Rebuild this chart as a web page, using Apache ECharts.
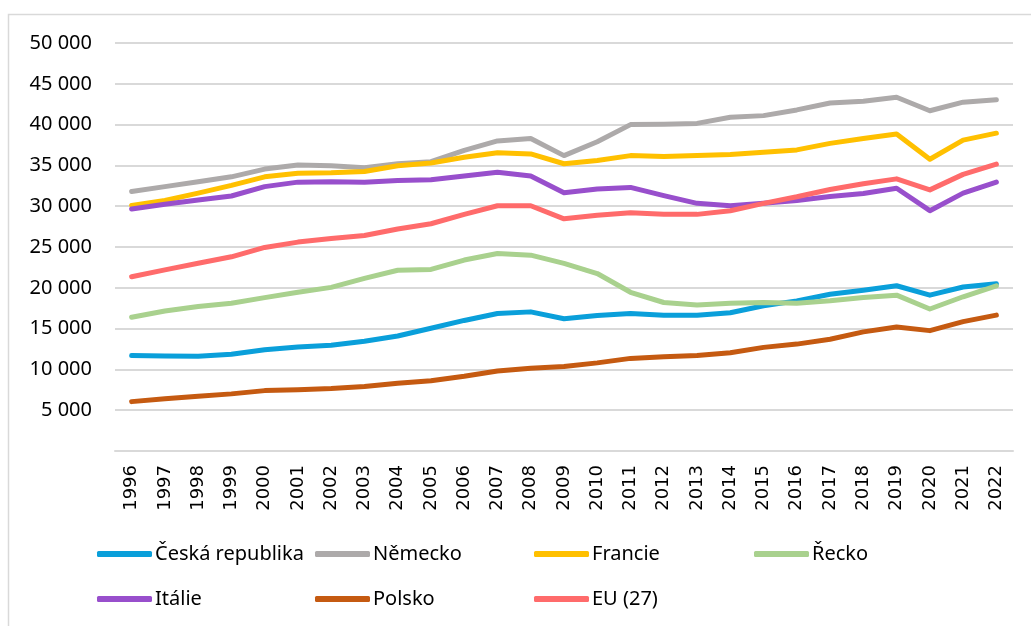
<!DOCTYPE html>
<html>
<head>
<meta charset="utf-8">
<script src="https://cdn.jsdelivr.net/npm/echarts@6/dist/echarts.min.js"></script>
<style>
  html, body { margin: 0; padding: 0; background: #fff; }
  #chart { width: 1031px; height: 626px; }
</style>
</head>
<body>
<div id="chart"></div>
<script>
// HDP na obyvatele (PPS), 1996–2022
const years = ['1996','1997','1998','1999','2000','2001','2002','2003','2004','2005','2006','2007','2008',
  '2009','2010','2011','2012','2013','2014','2015','2016','2017','2018','2019','2020','2021','2022'];

const ceskaRepublika = [11700, 11650, 11600, 11850, 12400, 12750, 12950, 13450, 14100, 15050, 16000, 16850, 17050,
  16200, 16600, 16850, 16650, 16650, 16950, 17800, 18400, 19200, 19700, 20250, 19100, 20100, 20500];
const nemecko = [31800, 32400, 33000, 33600, 34550, 35050, 34950, 34700, 35200, 35450, 36850, 38000, 38300,
  36200, 37900, 40000, 40050, 40150, 40900, 41100, 41800, 42650, 42850, 43350, 41700, 42750, 43050];
const francie = [30100, 30700, 31600, 32550, 33600, 34050, 34100, 34250, 34950, 35300, 36000, 36550, 36400,
  35200, 35600, 36200, 36100, 36200, 36350, 36600, 36900, 37700, 38300, 38850, 35750, 38100, 38950];
const recko = [16400, 17150, 17700, 18100, 18800, 19450, 20050, 21150, 22150, 22250, 23400, 24200, 24000,
  23000, 21750, 19450, 18200, 17900, 18100, 18200, 18100, 18400, 18800, 19100, 17400, 18900, 20250];
const italie = [29650, 30250, 30750, 31250, 32400, 32950, 33000, 32950, 33150, 33250, 33700, 34150, 33700,
  31650, 32100, 32300, 31300, 30350, 30050, 30350, 30700, 31200, 31550, 32200, 29450, 31600, 32950];
const polsko = [6050, 6400, 6700, 7000, 7400, 7500, 7650, 7900, 8300, 8600, 9150, 9800, 10150,
  10350, 10800, 11350, 11550, 11700, 12050, 12700, 13100, 13700, 14600, 15200, 14750, 15850, 16650];
const eu27 = [21350, 22200, 23000, 23800, 24950, 25600, 26050, 26400, 27200, 27850, 29000, 30050, 30050,
  28450, 28900, 29200, 29000, 29000, 29450, 30350, 31150, 32050, 32750, 33350, 32000, 33900, 35150];

const yTicks = { min: 0, max: 50000, step: 5000 };

const seriesDefs = [
  { name: 'Česká republika', data: ceskaRepublika, color: '#0A9FDA' },
  { name: 'Německo',         data: nemecko,        color: '#ADAAAA' },
  { name: 'Francie',         data: francie,        color: '#FFC000' },
  { name: 'Řecko',           data: recko,          color: '#A9D18E' },
  { name: 'Itálie',          data: italie,         color: '#984FCC' },
  { name: 'Polsko',          data: polsko,         color: '#C55A11' },
  { name: 'EU (27)',         data: eu27,           color: '#FF6B6B' }
];

// legend slots: column x, row y
const legendSlots = [
  [97, 542], [315, 542], [534, 542], [754, 542],
  [97, 587], [315, 587], [534, 587]
];

const textFont = '"Noto Sans", "Open Sans", sans-serif';

function fmtThousands(v) {
  if (v === 0) return '';
  return String(v).replace(/\B(?=(\d{3})+(?!\d))/g, ' ');
}

const chart = echarts.init(document.getElementById('chart'), null, { renderer: 'canvas' });

chart.setOption({
  backgroundColor: '#ffffff',
  animation: false,
  graphic: [{
    type: 'rect',
    shape: { x: 8.5, y: 14.5, width: 1100, height: 700 },
    style: { fill: 'none', stroke: '#D9D9D9', lineWidth: 1.5 },
    silent: true,
    z: -1
  }],
  grid: { left: 115, right: 18, top: 43, bottom: 175, containLabel: false },
  legend: seriesDefs.map((s, i) => ({
    data: [s.name],
    left: legendSlots[i][0],
    top: legendSlots[i][1],
    padding: 0,
    itemWidth: 55,
    itemHeight: 6,
    itemGap: 0,
    icon: 'roundRect',
    selectedMode: false,
    textStyle: { fontFamily: textFont, fontSize: 20, color: '#000', padding: [0, 0, 0, -2], lineHeight: 24 }
  })),
  xAxis: {
    type: 'category',
    data: years,
    boundaryGap: true,
    axisLine: { lineStyle: { color: '#D9D9D9', width: 2 } },
    axisTick: { show: false },
    axisLabel: {
      rotate: 90,
      interval: 0,
      margin: 14,
      fontFamily: '"DejaVu Sans", Verdana, sans-serif',
      fontSize: 18,
      color: '#000'
    }
  },
  yAxis: {
    type: 'value',
    min: yTicks.min,
    max: yTicks.max,
    interval: yTicks.step,
    axisLine: { show: false },
    axisTick: { show: false },
    splitLine: { lineStyle: { color: '#D9D9D9', width: 2 } },
    axisLabel: {
      formatter: fmtThousands,
      margin: 23,
      fontFamily: textFont,
      fontSize: 20,
      color: '#000'
    }
  },
  series: seriesDefs.map(s => ({
    name: s.name,
    type: 'line',
    data: s.data,
    symbol: 'none',
    smooth: false,
    color: s.color,
    lineStyle: { width: 5, color: s.color, cap: 'round', join: 'round' }
  }))
});
</script>
</body>
</html>
